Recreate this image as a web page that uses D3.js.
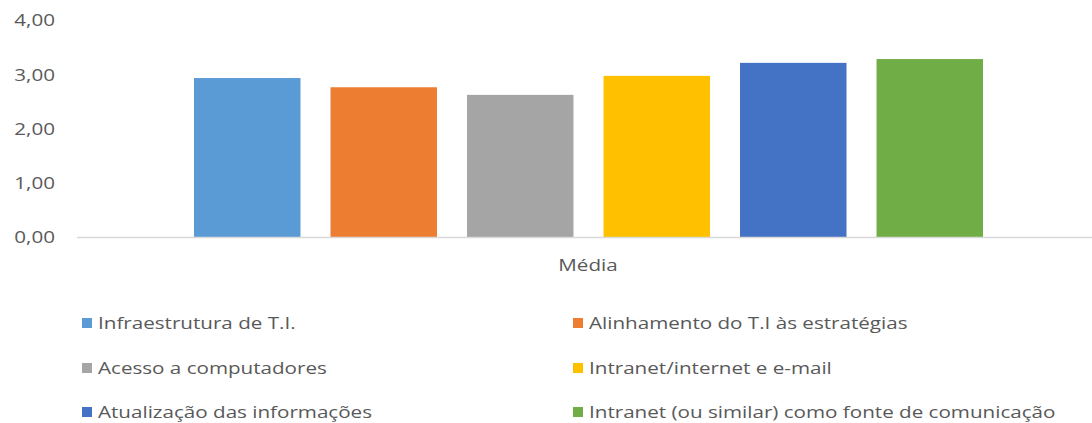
<!DOCTYPE html>
<html>
<head>
<meta charset="utf-8">
<script src="https://cdn.jsdelivr.net/npm/d3@7"></script>
<style>
  html, body { margin: 0; padding: 0; background: #fff; }
  svg text { font-family: "Open Sans", "Noto Sans", sans-serif; fill: #595959; }
</style>
</head>
<body>
<svg id="chart" width="1092" height="423"></svg>
<script>
// Category and series
const category = "Média";
const seriesNames = [
  "Infraestrutura de T.I.",
  "Alinhamento do T.I às estratégias",
  "Acesso a computadores",
  "Intranet/internet e e-mail",
  "Atualização das informações",
  "Intranet (ou similar) como fonte de comunicação"
];
const seriesValues = [2.93, 2.76, 2.62, 2.97, 3.21, 3.28];
const seriesColors = ["#5B9BD5", "#ED7D31", "#A5A5A5", "#FFC000", "#4472C4", "#70AD47"];
const yTicks = [0, 1, 2, 3, 4];

const svg = d3.select("#chart");

// pt-BR number format: comma as decimal separator
const locale = d3.formatLocale({ decimal: ",", thousands: ".", grouping: [3], currency: ["R$", ""] });
const fmt = locale.format(".2f");

const stretch = 1.25;   // horizontal widening of the lettering
const fontSize = 16.5;

const plot = { left: 77, right: 1092, top: 20, bottom: 237 };

const y = d3.scaleLinear().domain([0, 4]).range([plot.bottom, plot.top]);

// one category band, series bars laid out inside it
const x0 = d3.scaleBand().domain([category]).range([84, 1093]).paddingInner(0).paddingOuter(0);
const x1 = d3.scaleBand().domain(seriesNames)
  .range([194 - 84, 983 - 84])
  .paddingInner(0.22).paddingOuter(0);

// y-axis tick labels (no axis line, no gridlines)
const yAxis = d3.axisLeft(y).tickValues(yTicks).tickFormat(fmt).tickSize(0).tickPadding(0);
const gy = svg.append("g").attr("transform", "translate(55,0)").call(yAxis);
gy.select(".domain").remove();
gy.selectAll(".tick text")
  .attr("font-size", fontSize)
  .attr("font-family", null)
  .attr("fill", "#595959")
  .attr("x", 0)
  .attr("dy", "0.36em")
  .attr("transform", `scale(${stretch},1)`);

// bars
const gBars = svg.append("g").attr("transform", `translate(${x0(category)},0)`);
gBars.selectAll("rect")
  .data(seriesNames.map((n, i) => ({ name: n, value: seriesValues[i], color: seriesColors[i] })))
  .join("rect")
  .attr("x", d => x1(d.name))
  .attr("y", d => y(d.value))
  .attr("width", x1.bandwidth())
  .attr("height", d => y(0) - y(d.value))
  .attr("fill", d => d.color);

// category axis baseline
svg.append("line")
  .attr("x1", plot.left).attr("x2", plot.right)
  .attr("y1", y(0) + 0.5).attr("y2", y(0) + 0.5)
  .attr("stroke", "#d9d9d9").attr("stroke-width", 1.5);

// category label
svg.append("text")
  .attr("transform", `translate(588,265) scale(${stretch},1)`)
  .attr("text-anchor", "middle")
  .attr("dy", "0.36em")
  .attr("font-size", fontSize)
  .text(category);

// legend: two columns, three rows
const legendCols = [82, 573];
const legendRows = [323, 368, 412];
const gLeg = svg.append("g");
seriesNames.forEach((name, i) => {
  const cx = legendCols[i % 2];
  const cy = legendRows[Math.floor(i / 2)];
  gLeg.append("rect")
    .attr("x", cx).attr("y", cy - 5)
    .attr("width", 10).attr("height", 10)
    .attr("fill", seriesColors[i]);
  gLeg.append("text")
    .attr("transform", `translate(${cx + 16},${cy}) scale(${stretch},1)`)
    .attr("dy", "0.36em")
    .attr("font-size", fontSize)
    .text(name);
});
</script>
</body>
</html>
